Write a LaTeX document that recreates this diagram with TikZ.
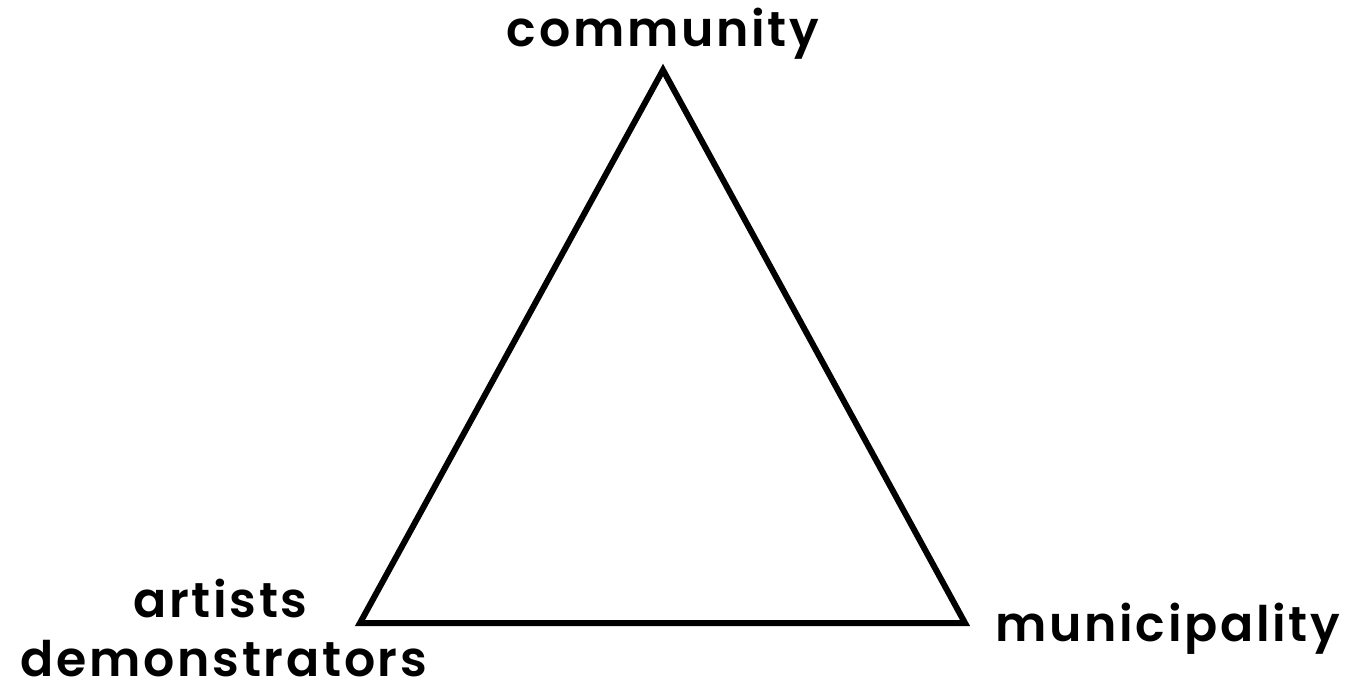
\documentclass[tikz,border=0pt]{standalone}
\usepackage{fontspec}
\setmainfont{Poppins}[BoldFont={Poppins SemiBold}]
\usetikzlibrary{positioning}

\begin{document}
\begin{tikzpicture}[
    x=0.5pt, y=-0.5pt,
    label/.style={font=\fontsize{24.5}{30}\selectfont\bfseries\addfontfeatures{LetterSpace=5.5}, text=black, inner sep=0pt, align=center},
    edge/.style={draw=black, line width=3pt}
]
\useasboundingbox (0,0) rectangle (1348,694);
\coordinate (top) at (663,70);
\coordinate (left) at (360,623);
\coordinate (right) at (965,623);

\node[label, anchor=base] (comm) at (663,47) {community};
\node[label, anchor=base east] (art) at (308,617) {artists};
\node[label, anchor=base] (demo) at (224,676) {demonstrators};
\node[label, anchor=base west] (muni) at (995,641) {municipality};

\draw[edge] (top) -- (right) -- (left) -- cycle;
\end{tikzpicture}
\end{document}
